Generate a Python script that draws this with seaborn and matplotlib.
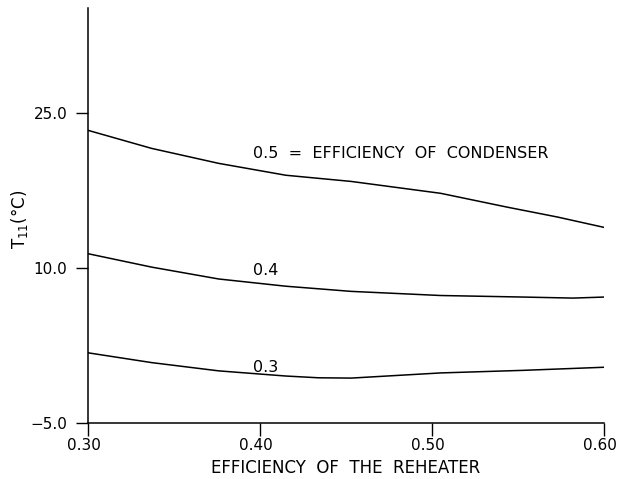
import matplotlib
matplotlib.use("Agg")
import matplotlib.pyplot as plt
import matplotlib.transforms as mtransforms
import seaborn as sns
import pandas as pd

sns.set_theme(style="ticks")
plt.rcParams['font.family'] = ['DejaVu Sans']

eff_reheater_05 = [0.30, 0.337, 0.376, 0.415, 0.453, 0.505, 0.544, 0.573, 0.60]
t_cond_05 = [23.35, 21.6, 20.15, 19.0, 18.4, 17.25, 15.9, 14.95, 13.95]
eff_reheater_04 = [0.30, 0.337, 0.376, 0.415, 0.453, 0.505, 0.553, 0.582, 0.60]
t_cond_04 = [11.4, 10.1, 8.95, 8.25, 7.75, 7.35, 7.2, 7.1, 7.2]
eff_reheater_03 = [0.30, 0.337, 0.376, 0.415, 0.434, 0.453, 0.505, 0.553, 0.60]
t_cond_03 = [1.8, 0.85, 0.05, -0.45, -0.62, -0.65, -0.15, 0.1, 0.4]
curve_labels = ["0.5  =  EFFICIENCY  OF  CONDENSER", "0.4", "0.3"]

frames = []
for lab, xs, ys in [("0.5", eff_reheater_05, t_cond_05),
                    ("0.4", eff_reheater_04, t_cond_04),
                    ("0.3", eff_reheater_03, t_cond_03)]:
    frames.append(pd.DataFrame({"x": xs, "y": ys, "cond": lab}))
df = pd.concat(frames, ignore_index=True)

fig = plt.figure(figsize=(6.18, 4.79), dpi=100)
ax = fig.add_axes([88 / 618, 1 - 423 / 479, (604 - 88) / 618, (423 - 8) / 479])
sns.lineplot(data=df, x="x", y="y", units="cond", estimator=None,
             color="black", linewidth=1.1, ax=ax, sort=True)

ax.set_xlim(0.30, 0.60)
ax.set_ylim(-5, 35.2)
ax.set_xticks([0.30, 0.40, 0.50, 0.60])
ax.set_xticklabels(["0.30", "0.40", "0.50", "0.60"])
ax.set_yticks([-5, 10, 25])
ax.set_yticklabels(["\u22125.0", "10.0", "25.0"])
ax.tick_params(axis="both", labelsize=11, length=9, width=1, color="black", labelcolor="black")
ax.tick_params(axis="y", pad=6)
ax.tick_params(axis="x", pad=2)
shift = mtransforms.ScaledTranslation(-4 / 100, 0, fig.dpi_scale_trans)
for lbl in ax.get_xticklabels():
    lbl.set_transform(lbl.get_transform() + shift)
for s in ["top", "right"]:
    ax.spines[s].set_visible(False)
for s in ["left", "bottom"]:
    ax.spines[s].set_color("black")
    ax.spines[s].set_linewidth(1.1)

ax.set_xlabel("EFFICIENCY  OF  THE  REHEATER", fontsize=12, color="black", labelpad=4)
ax.set_ylabel("T$_{11}$(°C)", fontsize=12, color="black", va="center")
ax.yaxis.set_label_coords(-(88 - 19) / 516, 0.49)

ax.text(0.396, 21.1, curve_labels[0], fontsize=11.5, color="black", ha="left", va="center")
ax.text(0.396, 9.8, curve_labels[1], fontsize=11.5, color="black", ha="left", va="center")
ax.text(0.396, 0.4, curve_labels[2], fontsize=11.5, color="black", ha="left", va="center")

fig.savefig("out.png", dpi=100)
